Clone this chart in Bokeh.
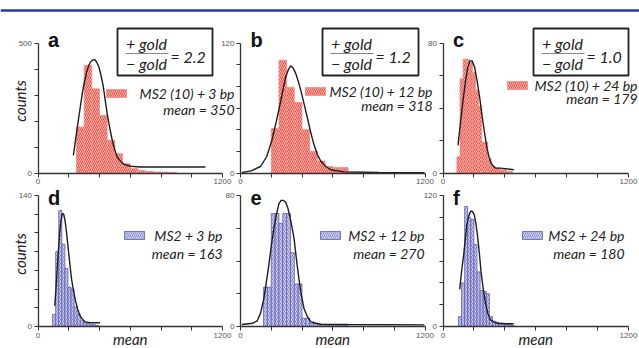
import math
from bokeh.plotting import figure
from bokeh.models import Range1d, LinearAxis, FixedTicker, Span
from bokeh.core.properties import value
from bokeh.embed import file_html
from bokeh.resources import INLINE

# ---------------- data ----------------
x_ticks = [0, 200, 400, 600, 800, 1000, 1200]

a_edges = [250, 300, 350, 400, 450, 500, 550, 600, 650, 700, 750, 800, 850, 900]
a_counts = [177, 414, 324, 222, 126, 74, 36, 17, 10, 6, 4, 3, 2]
a_fit_x = [230, 256, 272, 288, 302, 316, 329, 342, 356, 370, 383, 396, 410, 425, 437, 450, 466, 483, 499, 515, 537, 559, 602, 667, 800, 1089]
a_fit_y = [68, 177, 242, 305, 350, 388, 412, 427, 435, 436, 425, 408, 375, 331, 280, 228, 175, 126, 90, 62, 45, 33, 26, 23, 23, 23]
a_yticks = [0, 100, 200, 300, 400, 500]

b_edges = [200, 250, 300, 350, 400, 450, 500, 550, 600, 650, 700, 750, 800]
b_counts = [41, 104, 79, 65, 40, 20, 11, 6, 5, 5, 1, 1]
b_fit_x = [10, 70, 130, 170, 202, 232, 261, 278, 293, 310, 326, 342, 359, 375, 391, 413, 435, 456, 478, 500, 522, 555, 587, 630, 674, 900, 1196]
b_fit_y = [0.5, 2, 6, 15, 29, 47, 66, 78, 88, 95, 99, 97, 92, 85, 77, 64, 51, 38, 26, 17, 11, 6, 3, 2, 1, 0.5, 0.3]
b_yticks = [0, 20, 40, 60, 80, 100, 120]

c_edges = [90, 110, 130, 150, 170, 190, 210, 230, 250, 270, 290, 310, 330, 350, 370, 390, 410, 430, 450]
c_counts = [10, 58, 70, 70, 68, 62, 51, 41, 19, 19, 9, 4, 3, 3, 2, 2, 1, 1]
c_fit_x = [97, 112, 130, 145, 160, 175, 188, 205, 220, 238, 253, 270, 285, 300, 317, 340, 371, 458]
c_fit_y = [17, 30, 45, 56, 65, 69, 69, 65, 57, 46, 35, 24, 15, 9, 5, 3, 3, 2]
c_yticks = [0, 20, 40, 60, 80]

d_edges = [95, 115, 135, 155, 175, 195, 215, 235, 255, 275, 295, 315, 335, 355, 375, 395]
d_counts = [13, 80, 124, 88, 62, 42, 40, 21, 13, 6, 4, 3, 2, 2, 1]
d_fit_x = [109, 117, 124, 133, 142, 150, 159, 167, 176, 186, 196, 207, 218, 232, 246, 259, 272, 288, 305, 340, 403]
d_fit_y = [22, 40, 59, 82, 102, 114, 121, 120, 113, 100, 84, 67, 51, 37, 26, 18, 12, 8, 5, 4, 4]
d_yticks = [0, 20, 40, 60, 80, 100, 120, 140]

e_edges = [150, 175, 200, 225, 250, 275, 300, 325, 350, 375, 400, 425, 450, 475, 500, 525, 550, 575, 600, 625, 650, 675, 700]
e_counts = [24, 24, 69, 69, 63, 69, 69, 45, 26, 26, 5, 5, 2, 2, 1, 1, 1, 1, 1, 1, 1, 1]
e_fit_x = [10, 80, 109, 130, 152, 168, 185, 200, 217, 233, 250, 264, 278, 293, 309, 328, 348, 364, 380, 396, 413, 435, 457, 490, 522, 700, 1196]
e_fit_y = [1.2, 2, 3.5, 8, 17, 27, 38, 49, 60, 68, 75, 77, 77, 76, 72, 64, 54, 41, 29, 19, 11, 6, 3, 2, 1.4, 1.2, 1]
e_yticks = [0, 20, 40, 60, 80]

f_edges = [100, 120, 140, 160, 180, 200, 220, 240, 260, 280, 300, 320, 340, 360, 380, 400, 420, 440, 460]
f_counts = [9, 40, 110, 100, 98, 75, 50, 33, 32, 30, 9, 5, 4, 3, 3, 2, 2, 1]
f_fit_x = [108, 120, 134, 145, 155, 168, 181, 192, 203, 214, 225, 236, 246, 260, 274, 290, 307, 330, 350, 400, 458]
f_fit_y = [34, 50, 66, 81, 94, 102, 106, 105, 102, 93, 81, 66, 50, 35, 22, 12, 6, 4, 3, 2.5, 2.5]
f_yticks = [0, 20, 40, 60, 80, 100, 120]

letters = ["a", "b", "c", "d", "e", "f"]
legend_names = ["MS2 (10) + 3 bp", "MS2 (10) + 12 bp", "MS2 (10) + 24 bp",
                "MS2 + 3 bp", "MS2 + 12 bp", "MS2 + 24 bp"]
mean_texts = ["mean = 350", "mean = 318", "mean = 179",
              "mean = 163", "mean = 270", "mean = 180"]
ratio_texts = ["= 2.2", "= 1.2", "= 1.0"]

# ---------------- figure (default ranges = page pixels) ----------------
W, H = 639, 348
p = figure(width=W, height=H, x_range=Range1d(0, W), y_range=Range1d(H, 0),
           x_axis_type=None, y_axis_type=None, output_backend="svg",
           toolbar_location=None, min_border=0, outline_line_color=None)
p.background_fill_color = "white"
p.border_fill_color = "white"

p.add_layout(Span(location=10, dimension="width", line_color="#2a3a8f", line_width=2.5))

RED = dict(fill_color="#fcd6d0", line_color="#f08a82", hatch_color="#ea4a41")
BLUE = dict(fill_color="#7474c6", line_color="#5656ae", hatch_color="#dcdcf6")

panels = [
    dict(edges=a_edges, counts=a_counts, fx=a_fit_x, fy=a_fit_y, yt=a_yticks, st=RED,
         lay=(37.5, 222, 172.5, 42.5), leg=(106, 234, 97, 113), box=(117, 212, 28, 75)),
    dict(edges=b_edges, counts=b_counts, fx=b_fit_x, fy=b_fit_y, yt=b_yticks, st=RED,
         lay=(240, 424.5, 172.5, 42.5), leg=(305, 432, 95, 109), box=(322, 418, 28, 75)),
    dict(edges=c_edges, counts=c_counts, fx=c_fit_x, fy=c_fit_y, yt=c_yticks, st=RED,
         lay=(442.5, 628, 172.5, 42.5), leg=(507, 637, 89, 102), box=(533, 628, 28, 75)),
    dict(edges=d_edges, counts=d_counts, fx=d_fit_x, fy=d_fit_y, yt=d_yticks, st=BLUE,
         lay=(37.5, 222, 326, 195), leg=(124, 222, 239, 257), box=None),
    dict(edges=e_edges, counts=e_counts, fx=e_fit_x, fy=e_fit_y, yt=e_yticks, st=BLUE,
         lay=(240, 424.5, 326, 195), leg=(320, 424, 239, 257), box=None),
    dict(edges=f_edges, counts=f_counts, fx=f_fit_x, fy=f_fit_y, yt=f_yticks, st=BLUE,
         lay=(442.5, 628, 326, 195), leg=(522, 624, 239, 257), box=None),
]

TDY = 4  # text glyphs render slightly below the requested baseline
ITAL = dict(text_font=value("Lato"), text_font_style="italic", text_color="#222222")
HATCH = dict(hatch_pattern="\\", hatch_scale=4.0, hatch_weight=1.1)

for i, pn in enumerate(panels):
    px0, px1, py0, py1 = pn["lay"]
    ymax = pn["yt"][-1]
    kx = (px1 - px0) / 1200.0
    ky = (py0 - py1) / float(ymax)
    xn, yn = "x%d" % i, "y%d" % i
    p.extra_x_ranges[xn] = Range1d(-px0 / kx, (W - px0) / kx)
    p.extra_y_ranges[yn] = Range1d(-(H - py0) / ky, py0 / ky)

    st = pn["st"]
    p.quad(left=pn["edges"][:-1], right=pn["edges"][1:], bottom=0, top=pn["counts"],
           x_range_name=xn, y_range_name=yn, line_width=0.7, **HATCH, **st)
    p.line(pn["fx"], pn["fy"], x_range_name=xn, y_range_name=yn,
           line_color="#1e1e1e", line_width=1.4)

    yt = pn["yt"]
    yax = LinearAxis(x_range_name=xn, y_range_name=yn, fixed_location=0, bounds=(0, ymax),
                     ticker=FixedTicker(ticks=yt),
                     major_label_overrides={t: "" for t in yt[1:-1]})
    xax = LinearAxis(x_range_name=xn, y_range_name=yn, fixed_location=0, bounds=(0, 1200),
                     ticker=FixedTicker(ticks=x_ticks),
                     major_label_overrides={t: "" for t in x_ticks[1:-1]})
    for ax in (yax, xax):
        ax.axis_line_color = "#333333"
        ax.axis_line_width = 1.3
        ax.major_tick_line_color = "#333333"
        ax.major_tick_line_width = 1.0
        ax.major_tick_out = 4
        ax.major_tick_in = 0
        ax.minor_tick_line_color = None
        ax.major_label_text_font = "Liberation Sans"
        ax.major_label_text_font_size = "8px"
        ax.major_label_text_color = "#555555"
        ax.major_label_standoff = 2
    p.add_layout(yax, "left")
    p.add_layout(xax, "below")

    # panel letter
    p.text(x=[px0 + 10], y=[py1 + (1 if i < 3 else 6) - TDY], text=[letters[i]],
           text_font=value("Liberation Sans"), text_font_style="bold",
           text_font_size="20px", text_baseline="alphabetic", text_color="#111111")

    # legend patch + texts
    lx, rx, b1, b2 = pn["leg"]
    p.quad(left=[lx], right=[lx + 20], top=[b1 - 8], bottom=[b1], line_width=0.7,
           **HATCH, **st)
    p.text(x=[rx, rx], y=[b1 - TDY, b2 - TDY], text=[legend_names[i], mean_texts[i]],
           text_font_size="14px", text_align="right", text_baseline="alphabetic", **ITAL)

    # ratio box (top row)
    if pn["box"] is not None:
        L, R, T, B = pn["box"]
        p.quad(left=[L], right=[R], top=[T], bottom=[B], fill_color=None,
               line_color="#222222", line_width=1.8)
        cx = L + 29
        p.text(x=[cx, cx], y=[T + 19 - TDY, T + 39 - TDY], text=["+ gold", "\u2212 gold"],
               text_font_size="16px", text_align="center", text_baseline="alphabetic", **ITAL)
        p.segment(x0=[L + 8], x1=[L + 51], y0=[T + 25], y1=[T + 25],
                  line_color="#888888", line_width=1.2)
        p.text(x=[L + 53], y=[T + 32 - TDY], text=[ratio_texts[i]],
               text_font_size="16px", text_align="left", text_baseline="alphabetic", **ITAL)

    # axis titles
    if i in (0, 3):
        p.text(x=[19], y=[(py0 + py1) / 2 - 7], text=["counts"], angle=math.pi / 2,
               text_font_size="15px", text_align="center", text_baseline="middle", **ITAL)
    if i >= 3:
        p.text(x=[(px0 + px1) / 2], y=[338], text=["mean"],
               text_font_size="15px", text_align="center", text_baseline="alphabetic", **ITAL)

open("out.html", "w").write(file_html(p, INLINE))
